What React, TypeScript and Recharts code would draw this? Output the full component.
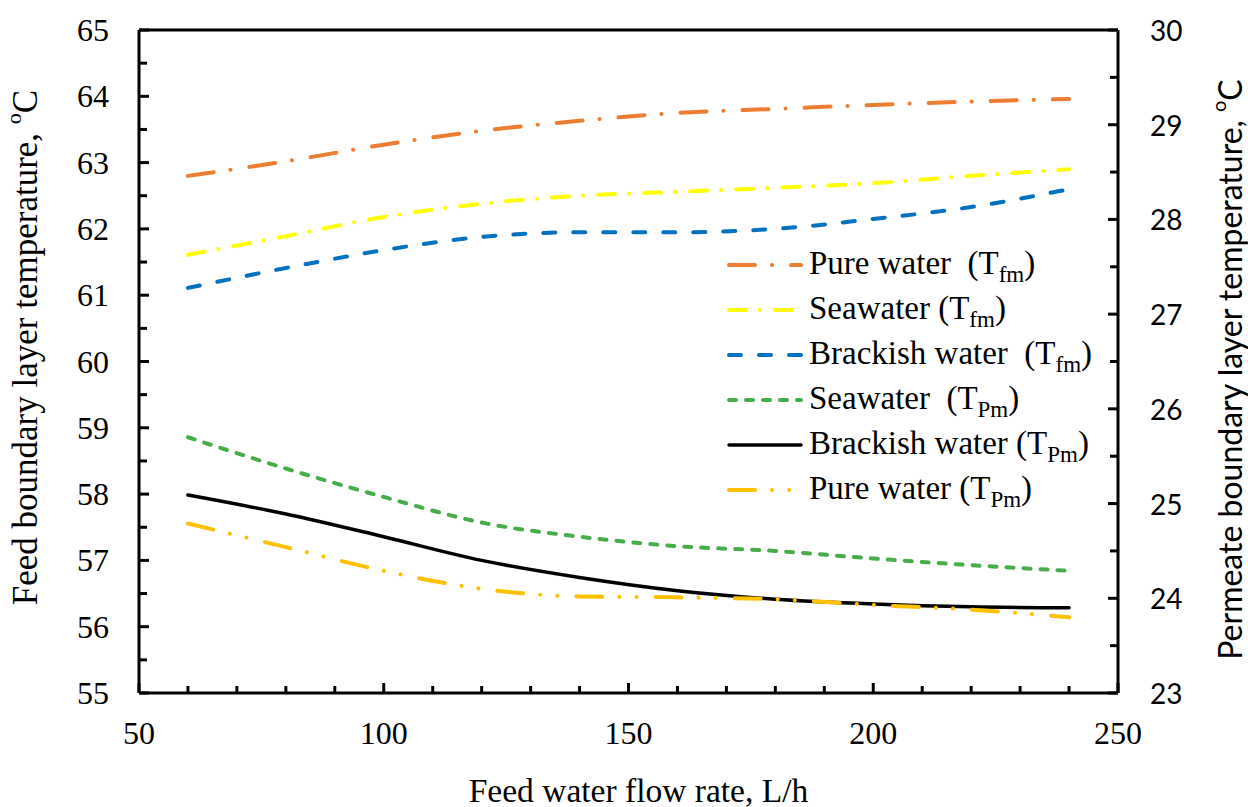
import { LineChart, Line, XAxis, YAxis, Legend, ReferenceLine, Label } from "recharts";

const SERIF = '"Liberation Serif", "Times New Roman", serif';
const SANS = 'Lato, "Liberation Sans", sans-serif';

// Feed flow rate, L/h
const FLOW = [60, 80, 100, 120, 140, 160, 180, 200, 220, 240];

// Feed-side membrane temperatures (left axis)
const PURE_TFM = [62.8, 63.02, 63.27, 63.48, 63.63, 63.75, 63.81, 63.87, 63.92, 63.96];
const SEA_TFM = [61.61, 61.89, 62.18, 62.38, 62.5, 62.56, 62.62, 62.69, 62.8, 62.9];
const BRACK_TFM = [61.11, 61.41, 61.68, 61.88, 61.95, 61.95, 62.0, 62.15, 62.33, 62.6];

// Permeate-side membrane temperatures (right axis)
const SEA_TPM = [25.7, 25.37, 25.07, 24.8, 24.65, 24.55, 24.5, 24.42, 24.35, 24.29];
const BRACK_TPM = [25.09, 24.89, 24.65, 24.4, 24.22, 24.08, 23.99, 23.94, 23.91, 23.9];
const PURE_TPM = [24.79, 24.54, 24.29, 24.1, 24.02, 24.01, 23.99, 23.93, 23.88, 23.8];

const X_TICKS = [50, 60, 70, 80, 90, 100, 110, 120, 130, 140, 150, 160, 170, 180, 190, 200, 210, 220, 230, 240, 250];
const X_LABELS = [50, 100, 150, 200, 250];
const LEFT_TICKS = [55, 55.5, 56, 56.5, 57, 57.5, 58, 58.5, 59, 59.5, 60, 60.5, 61, 61.5, 62, 62.5, 63, 63.5, 64, 64.5, 65];
const RIGHT_TICKS = [23, 23.5, 24, 24.5, 25, 25.5, 26, 26.5, 27, 27.5, 28, 28.5, 29, 29.5, 30];

const data = FLOW.map((f, i) => ({
  flow: f,
  pureTfm: PURE_TFM[i],
  seaTfm: SEA_TFM[i],
  brackTfm: BRACK_TFM[i],
  seaTpm: SEA_TPM[i],
  brackTpm: BRACK_TPM[i],
  pureTpm: PURE_TPM[i],
}));

const SERIES = [
  { key: "pureTfm", axis: "left", color: "#ED7D31", dash: "26 17 0.1 19", width: 4, name: "Pure water  (T", sub: "fm" },
  { key: "seaTfm", axis: "left", color: "#FFFF00", dash: "17 14 0.1 15", width: 4, name: "Seawater (T", sub: "fm" },
  { key: "brackTfm", axis: "left", color: "#0070C0", dash: "12 18", width: 4, name: "Brackish water  (T", sub: "fm" },
  { key: "seaTpm", axis: "right", color: "#45AE48", dash: "7 10", width: 4, name: "Seawater  (T", sub: "Pm" },
  { key: "brackTpm", axis: "right", color: "#000000", dash: undefined, width: 3.5, name: "Brackish water (T", sub: "Pm" },
  { key: "pureTpm", axis: "right", color: "#FFC000", dash: "26 17 0.1 17 0.1 19", width: 4, name: "Pure water (T", sub: "Pm" },
];

const AXIS_LINE = { stroke: "#000", strokeWidth: 3 };
const SERIF_TEXT = { fontFamily: SERIF, fontSize: 32 };
const SANS_TEXT = { fontFamily: SANS, fontSize: 28 };

function BottomTick({ x, y, payload }: any) {
  const major = X_LABELS.includes(payload.value);
  return (
    <g>
      <line x1={x} x2={x} y1={y} y2={y - (major ? 10 : 7)} stroke="#000" strokeWidth={3} />
      {major && (
        <text x={x} y={y + 40} textAnchor="middle" dominantBaseline="central" style={SERIF_TEXT} fill="#000">
          {payload.value}
        </text>
      )}
    </g>
  );
}

function LeftTick({ x, y, payload }: any) {
  const major = Number.isInteger(payload.value);
  return (
    <g>
      <line x1={x} x2={x + (major ? 10 : 8)} y1={y} y2={y} stroke="#000" strokeWidth={3} />
      {major && (
        <text x={x - 30} y={y} textAnchor="end" dominantBaseline="central" style={SERIF_TEXT} fill="#000">
          {payload.value}
        </text>
      )}
    </g>
  );
}

function RightTick({ x, y, payload }: any) {
  const major = Number.isInteger(payload.value);
  return (
    <g>
      <line x1={x} x2={x - (major ? 10 : 8)} y1={y} y2={y} stroke="#000" strokeWidth={3} />
      {major && (
        <text x={x + 32} y={y} textAnchor="start" dominantBaseline="central" style={SANS_TEXT} fill="#000">
          {payload.value}
        </text>
      )}
    </g>
  );
}

function LegendBox() {
  return (
    <div style={{ fontFamily: SERIF, fontSize: 33, color: "#000" }}>
      {SERIES.map((s) => (
        <div key={s.key} style={{ display: "flex", alignItems: "center", height: 45 }}>
          <svg width={78} height={10} style={{ flex: "none" }}>
            <line x1={3} x2={75} y1={5} y2={5} stroke={s.color} strokeWidth={s.width}
              strokeDasharray={s.dash} strokeLinecap="round" />
          </svg>
          <span style={{ whiteSpace: "pre", marginLeft: 5, lineHeight: "45px" }}>
            {s.name}
            <span style={{ fontSize: 23, position: "relative", top: 8 }}>{s.sub}</span>)
          </span>
        </div>
      ))}
    </div>
  );
}

export default function App() {
  return (
    <div style={{ position: "absolute", left: 0, top: 0, width: 1248, height: 807, background: "#fff" }}>
      <LineChart width={1248} height={807} data={data} margin={{ top: 30, right: 0, bottom: 0, left: 0 }}
        style={{ fontFamily: SERIF }}>
        <XAxis dataKey="flow" type="number" domain={[50, 250]} ticks={X_TICKS} interval={0}
          height={114} axisLine={AXIS_LINE} tickLine={false} tickSize={0} tickMargin={0} tick={<BottomTick />}>
          <Label content={({ viewBox }: any) => (
            <text x={viewBox.x + viewBox.width / 2 + 10} y={viewBox.y + 97} textAnchor="middle"
              dominantBaseline="central" style={{ fontFamily: SERIF, fontSize: 33.5 }} fill="#000">
              Feed water flow rate, L/h
            </text>
          )} />
        </XAxis>
        <YAxis yAxisId="left" orientation="left" type="number" domain={[55, 65]} ticks={LEFT_TICKS} interval={0}
          width={139} axisLine={AXIS_LINE} tickLine={false} tickSize={0} tickMargin={0} tick={<LeftTick />}>
          <Label content={({ viewBox }: any) => {
            const cx = viewBox.x + 25;
            const cy = viewBox.y + viewBox.height / 2 - 14;
            return (
              <text x={cx} y={cy} transform={`rotate(-90 ${cx} ${cy})`} textAnchor="middle"
                dominantBaseline="central" style={{ fontFamily: SERIF, fontSize: 35 }} fill="#000">
                Feed boundary layer temperature, <tspan dy={-12} fontSize={22}>o</tspan><tspan dy={12}>C</tspan>
              </text>
            );
          }} />
        </YAxis>
        <YAxis yAxisId="right" orientation="right" type="number" domain={[23, 30]} ticks={RIGHT_TICKS} interval={0}
          width={130} axisLine={AXIS_LINE} tickLine={false} tickSize={0} tickMargin={0} tick={<RightTick />}>
          <Label content={({ viewBox }: any) => {
            const cx = viewBox.x + 111;
            const cy = viewBox.y + viewBox.height / 2 + 8;
            return (
              <text x={cx} y={cy} transform={`rotate(-90 ${cx} ${cy})`} textAnchor="middle"
                dominantBaseline="central" style={{ fontFamily: SANS, fontSize: 32 }} fill="#000">
                Permeate boundary layer temperature, <tspan dy={-11} fontSize={20}>o</tspan><tspan dy={11}>C</tspan>
              </text>
            );
          }} />
        </YAxis>
        <ReferenceLine yAxisId="left" y={65} stroke="#000" strokeWidth={3} />
        {SERIES.map((s) => (
          <Line key={s.key} yAxisId={s.axis} dataKey={s.key} type="monotone" stroke={s.color}
            strokeWidth={s.width} strokeDasharray={s.dash} strokeLinecap="round" dot={false}
            activeDot={false} isAnimationActive={false} />
        ))}
        <Legend layout="vertical" align="center" verticalAlign="middle" content={<LegendBox />}
          wrapperStyle={{ left: 726, top: 242, width: 420 }} />
      </LineChart>
    </div>
  );
}
